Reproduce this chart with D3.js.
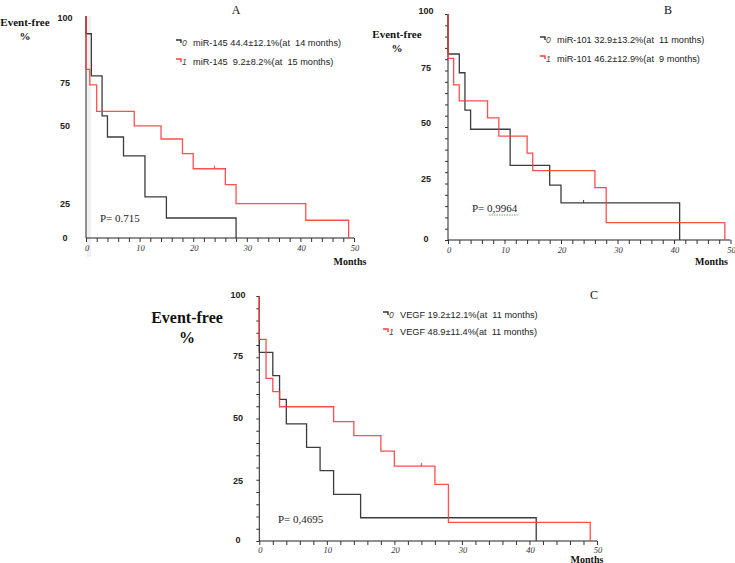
<!DOCTYPE html>
<html><head><meta charset="utf-8">
<script src="https://cdn.jsdelivr.net/npm/d3@7"></script>
<style>body{margin:0;background:#fff}svg{display:block}</style>
</head><body>
<script>
// ---------- data ----------
const monthTicks = [0, 10, 20, 30, 40, 50];
const pctTicks = [100, 75, 50, 25, 0];

// Panel A (miR-145)
const aLegend = ["miR-145 44.4\u00b112.1%(at  14 months)", "miR-145  9.2\u00b18.2%(at  15 months)"];
const aTimes0 = [0, 1, 3, 4, 7, 11, 15, 28];
const aSurv0  = [92, 73, 55, 45.5, 37, 18.5, 9, 0];
const aTimes1 = [0, 0.7, 2, 9, 14, 18, 20, 26, 28, 41, 49];
const aSurv1  = [76, 69, 57, 50.5, 44.6, 38, 31.2, 24, 15.5, 8, 0];
const aCensor1 = [[24, 31.2]];
const aP = "P= 0.715";

// Panel B (miR-101)
const bLegend = ["miR-101 32.9\u00b113.2%(at  11 months)", "miR-101 46.2\u00b112.9%(at  9 months)"];
const bTimes0 = [0, 2, 3, 4, 11, 18, 20, 41];
const bSurv0  = [82.3, 74, 57.5, 49, 33, 24.3, 16.4, 0];
const bCensor0 = [[24, 16.4]];
const bTimes1 = [0, 1, 2, 7, 9, 14, 15, 26, 28, 49];
const bSurv1  = [80.4, 68.6, 61.6, 54, 46, 38.4, 30.7, 23.2, 7.7, 0];
const bP = "P= 0,9964";

// Panel C (VEGF)
const cLegend = ["VEGF 19.2\u00b112.1%(at  11 months)", "VEGF 48.9\u00b111.4%(at  11 months)"];
const cTimes0 = [0, 2, 3, 4, 7, 9, 11, 15, 41];
const cSurv0  = [77, 67.5, 57.8, 47.8, 38.2, 28.7, 19, 9.5, 0];
const cTimes1 = [0, 1, 2, 3, 11, 14, 18, 20, 26, 28, 49];
const cSurv1  = [82.3, 66.4, 61, 54.8, 48.7, 43, 36.7, 30.6, 23.1, 7.6, 0];
const cCensor1 = [[24, 30.6]];
const cP = "P= 0,4695";

// ---------- drawing ----------
const W = 735, H = 563;
const svg = d3.select("body").append("svg").attr("width", W).attr("height", H);
const BLACK = "#3c3c3c", RED = "#ff3b3b";
const SERIF = "'Liberation Serif','Times New Roman',serif";
const SANS = "'Liberation Sans',Arial,sans-serif";
const NARROW = "'Liberation Sans Narrow','Liberation Sans',Arial,sans-serif";

function stepPoints(times, surv) {
  const pts = [[0, 100]];
  let cur = 100;
  times.forEach((t, i) => { pts.push([t, cur]); cur = surv[i]; pts.push([t, cur]); });
  return pts;
}

function panel(o) {
  const g = svg.append("g");
  const x = d3.scaleLinear().domain([0, 50]).range([o.x0, o.x1]);
  const y = d3.scaleLinear().domain([0, 100]).range([o.y0, o.y1]);
  if (o.band) g.append("rect").attr("x", o.x0 + 1).attr("y", o.y1).attr("width", 4)
      .attr("height", o.y0 - o.y1 + 19).attr("fill", "#f0f0f0");
  // x axis
  const xa = g.append("g").attr("transform", `translate(0,${o.y0})`)
    .call(d3.axisBottom(x).tickValues(d3.range(0, 51, 2)).tickSize(4).tickFormat(""));
  xa.select(".domain").attr("stroke", "#222").attr("d", `M${o.x0},0H${o.x1}`);
  xa.selectAll(".tick line").attr("stroke", "#333");
  g.selectAll(".xl").data(monthTicks).join("text")
    .attr("x", d => x(d) + 1).attr("y", o.y0 + o.xly).attr("text-anchor", "middle")
    .attr("font-family", SERIF).attr("font-style", "italic").attr("font-size", 8.5).attr("fill", "#333")
    .text(d => d);
  // y axis
  const ya = g.append("g").attr("transform", `translate(${o.x0},0)`)
    .call(d3.axisLeft(y).tickValues(o.yticks ? d3.range(0, 101, 5) : []).tickSize(3).tickFormat(""));
  ya.select(".domain").attr("stroke", "#222").attr("d", `M0,${o.y1}V${o.y0}`);
  ya.selectAll(".tick line").attr("stroke", "#333");
  g.selectAll(".yl").data(pctTicks).join("text")
    .attr("x", o.ylx).attr("y", (d, i) => o.yly[i]).attr("text-anchor", "middle")
    .attr("font-family", NARROW).attr("font-weight", "bold").attr("font-size", 9).attr("fill", "#222")
    .text(d => d);
  // curves
  const line = d3.line().x(d => x(d[0])).y(d => y(d[1]));
  g.append("path").attr("d", line(stepPoints(o.t0, o.s0))).attr("fill", "none")
    .attr("stroke", BLACK).attr("stroke-width", 1.3);
  g.append("path").attr("d", line(stepPoints(o.t1, o.s1))).attr("fill", "none")
    .attr("stroke", RED).attr("stroke-width", 1.3).attr("opacity", 0.9);
  (o.c0 || []).forEach(c => g.append("line").attr("x1", x(c[0])).attr("x2", x(c[0]))
    .attr("y1", y(c[1]) - 3).attr("y2", y(c[1])).attr("stroke", BLACK));
  (o.c1 || []).forEach(c => g.append("line").attr("x1", x(c[0])).attr("x2", x(c[0]))
    .attr("y1", y(c[1]) - 3).attr("y2", y(c[1])).attr("stroke", RED));
  // labels
  g.append("text").attr("x", o.ex).attr("y", o.ey).attr("text-anchor", "middle")
    .attr("font-family", SERIF).attr("font-weight", "bold").attr("font-size", o.efs).attr("fill", "#111").text("Event-free");
  g.append("text").attr("x", o.ex + (o.pcdx || 0)).attr("y", o.ey + o.efs * 1.25).attr("text-anchor", "middle")
    .attr("font-family", SERIF).attr("font-weight", "bold").attr("font-size", o.efs).attr("fill", "#111").text("%");
  g.append("text").attr("x", x(50) + o.mdx).attr("y", o.y0 + o.mdy).attr("text-anchor", "middle")
    .attr("font-family", SERIF).attr("font-weight", "bold").attr("font-size", 10).attr("fill", "#111").text("Months");
  g.append("text").attr("x", o.tx).attr("y", o.ty).attr("text-anchor", "middle")
    .attr("font-family", SERIF).attr("font-size", 12).attr("fill", "#111").text(o.title);
  const pt = g.append("text").attr("x", o.px).attr("y", o.py)
    .attr("font-family", SERIF).attr("font-size", 11).attr("fill", "#222").text(o.p);
  if (o.squiggle) {
    const bb = pt.node().getBBox();
    g.append("line").attr("x1", bb.x + 17).attr("x2", bb.x + bb.width).attr("y1", o.py + 3).attr("y2", o.py + 3)
      .attr("stroke", "#5cb85c").attr("stroke-width", 1).attr("stroke-dasharray", "1.5,1");
  }
  // legend
  o.legend.forEach((txt, i) => {
    const ly = o.ly + i * o.lgap;
    const col = i === 0 ? "#333" : RED;
    g.append("path").attr("d", `M${o.lx},${ly - 6}h5v3`).attr("fill", "none").attr("stroke", col).attr("stroke-width", 1.4);
    g.append("text").attr("x", o.lx + 6).attr("y", ly).attr("font-family", SANS).attr("font-style", "italic")
      .attr("font-size", 8.5).attr("fill", "#444").text(i);
    g.append("text").attr("x", o.lx + 17).attr("y", ly).attr("font-family", SANS).attr("font-size", 9.2)
      .attr("fill", "#222").attr("xml:space", "preserve").style("white-space", "pre").text(txt);
  });
}

panel({ x0: 86, x1: 354, y0: 238, y1: 16, yticks: false, band: true,
  ylx: 65, yly: [21, 86, 129, 207, 241],
  t0: aTimes0, s0: aSurv0, t1: aTimes1, s1: aSurv1, c1: aCensor1,
  ex: 25, ey: 26, efs: 11, title: "A", tx: 236, ty: 14,
  p: aP, px: 100, py: 222, legend: aLegend, lx: 176, ly: 46, lgap: 19, mdx: -4, mdy: 27, xly: 13 });

panel({ x0: 448, x1: 730.5, y0: 240, y1: 14, yticks: true,
  ylx: 426, yly: [14, 71, 126, 182, 242],
  t0: bTimes0, s0: bSurv0, t1: bTimes1, s1: bSurv1, c0: bCensor0,
  ex: 397, ey: 38, efs: 11, title: "B", tx: 668, ty: 14,
  p: bP, px: 472, py: 212, squiggle: true, legend: bLegend, lx: 540, ly: 43, lgap: 19, mdx: -19, mdy: 25, xly: 13 });

panel({ x0: 259.3, x1: 597, y0: 541, y1: 296, yticks: true,
  ylx: 238, yly: [298, 359, 421, 484, 543],
  t0: cTimes0, s0: cSurv0, t1: cTimes1, s1: cSurv1, c1: cCensor1,
  ex: 187, ey: 323, efs: 16, pcdx: 0, title: "C", tx: 594, ty: 299,
  p: cP, px: 278, py: 523, legend: cLegend, lx: 383, ly: 318, lgap: 17, mdx: -10, mdy: 21.5, xly: 11.5 });
</script>
</body></html>
